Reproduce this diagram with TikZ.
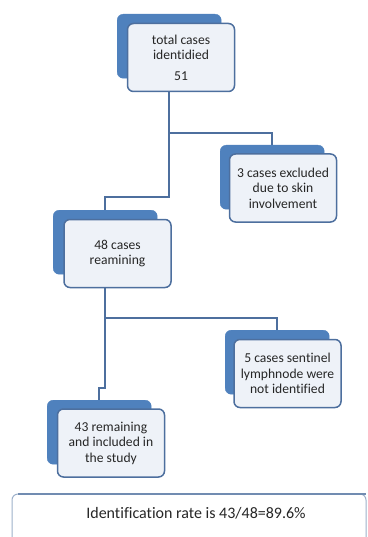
\documentclass[tikz,border=0pt]{standalone}
\usepackage{fontspec}
\setmainfont[Ligatures=NoCommon]{Carlito}
\usetikzlibrary{backgrounds}
\definecolor{backblue}{HTML}{4F81BD}
\definecolor{edgeblue}{HTML}{4D6F9E}
\definecolor{frontfill}{HTML}{EEF2F8}
\definecolor{txt}{HTML}{262626}
\tikzset{
  backbox/.style={draw=backblue, fill=backblue, rounded corners=6pt, minimum width=104pt, minimum height=64pt, inner sep=0pt, anchor=north west},
  frontbox/.style={draw=edgeblue, line width=1.5pt, fill=frontfill, rounded corners=6pt, minimum width=107pt, minimum height=68pt, inner sep=2pt, align=center, font=\fontsize{13.6}{15.5}\selectfont, text=txt},
  conn/.style={draw=edgeblue, line width=2pt},
}
\begin{document}
\begin{tikzpicture}[x=1pt,y=-1pt]
\useasboundingbox (0,0) rectangle (367,537);
% back boxes
\node[backbox] (b1) at (117,14) {};
\node[backbox] (b2) at (220,145) {};
\node[backbox] (b3) at (53,210) {};
\node[backbox] (b4) at (225,330) {};
\node[backbox] (b5) at (47,400) {};
% front boxes
\node[frontbox] (f1) at (181,57.5) {total cases\\identidied\\[5pt]51};
\node[frontbox] (f2) at (283,188) {3 cases excluded\\due to skin\\involvement};
\node[frontbox] (f3) at (117.5,253.5) {48 cases\\reamining};
\node[frontbox] (f4) at (287.5,373.5) {5 cases sentinel\\lymphnode were\\not identified};
\node[frontbox] (f5) at (111,443) {43 remaining\\and included in\\the study};
% connector bend points
\coordinate (j1) at (b1.south |- 0,133);
\coordinate (j2) at (b1.south |- 0,197);
\coordinate (j3) at (b3.south |- 0,318);
\coordinate (j4) at (b3.south |- 0,388);
\coordinate (j5) at (b5.north |- 0,388);
\begin{scope}[on background layer]
\draw[conn] (b1.south) -- (j2) -| (b3.north);
\draw[conn] (j1) -| (b2.north);
\draw[conn] (b3.south) -- (j4) -- (j5) -- (b5.north);
\draw[conn] (j3) -| (b4.north);
\end{scope}
% bottom box (cut off by the picture's edge)
\coordinate (r1) at (12,537);
\coordinate (r2) at (366,494);
\draw[draw=edgeblue!55, line width=1pt, rounded corners=6pt] (r1) |- (r2) -- (366,537);
\draw[draw=edgeblue!80, line width=2pt] (18,494) -- (r2);
\node[font=\fontsize{16}{18}\selectfont, text=txt] (rate) at (196,513) {Identification rate is 43/48=89.6\%};
\end{tikzpicture}
\end{document}
